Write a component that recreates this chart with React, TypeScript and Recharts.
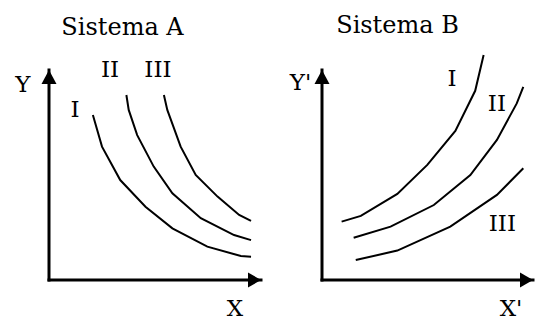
import { LineChart, Line, XAxis, YAxis, ReferenceLine, ReferenceDot } from "recharts";

type Pt = { x: number; y: number };
type Tag = { x: number; y: number; text: string };

// Sistema A: three decreasing curves
const aCurveI: Pt[] = [
  { x: 2.07, y: 7.86 },
  { x: 2.5, y: 6.35 },
  { x: 3.36, y: 4.76 },
  { x: 4.55, y: 3.49 },
  { x: 5.82, y: 2.46 },
  { x: 7.47, y: 1.59 },
  { x: 9.05, y: 1.14 },
  { x: 9.53, y: 1.11 },
];
const aCurveII: Pt[] = [
  { x: 3.65, y: 8.81 },
  { x: 3.76, y: 8.1 },
  { x: 4.16, y: 6.9 },
  { x: 4.94, y: 5.4 },
  { x: 5.82, y: 4.13 },
  { x: 7.16, y: 2.94 },
  { x: 8.73, y: 2.14 },
  { x: 9.53, y: 1.9 },
];
const aCurveIII: Pt[] = [
  { x: 5.42, y: 8.81 },
  { x: 5.58, y: 8.1 },
  { x: 6.21, y: 6.35 },
  { x: 6.92, y: 5.0 },
  { x: 7.95, y: 3.97 },
  { x: 8.97, y: 3.1 },
  { x: 9.53, y: 2.82 },
];

// Sistema B: three increasing curves
const bCurveI: Pt[] = [
  { x: 0.93, y: 2.78 },
  { x: 1.84, y: 3.05 },
  { x: 3.57, y: 4.1 },
  { x: 4.99, y: 5.48 },
  { x: 6.32, y: 7.1 },
  { x: 7.26, y: 9.01 },
  { x: 7.66, y: 10.71 },
];
const bCurveII: Pt[] = [
  { x: 1.5, y: 2.01 },
  { x: 3.25, y: 2.54 },
  { x: 5.3, y: 3.57 },
  { x: 7.03, y: 5.0 },
  { x: 8.29, y: 6.67 },
  { x: 9.23, y: 8.41 },
  { x: 9.54, y: 9.2 },
];
const bCurveIII: Pt[] = [
  { x: 1.6, y: 0.95 },
  { x: 3.57, y: 1.4 },
  { x: 6.08, y: 2.54 },
  { x: 8.29, y: 4.05 },
  { x: 9.54, y: 5.32 },
];

const aTags: Tag[] = [
  { x: 1.23, y: 8.14, text: "I" },
  { x: 2.88, y: 10.07, text: "II" },
  { x: 5.14, y: 10.07, text: "III" },
  { x: -1.23, y: 9.33, text: "Y" },
  { x: 8.77, y: -1.3, text: "X" },
];
const bTags: Tag[] = [
  { x: 6.16, y: 9.64, text: "I" },
  { x: 8.29, y: 8.45, text: "II" },
  { x: 8.55, y: 2.74, text: "III" },
  { x: -1.02, y: 9.43, text: "Y'" },
  { x: 8.96, y: -1.3, text: "X'" },
];

const X_MAX = 10;
const Y_MAX = 12;
const Y_AXIS_TOP = 10;
const FONT = "'DejaVu Serif', serif";

const UpArrow = (p: any) => (
  <polygon
    points={`${p.cx},${p.cy} ${p.cx - 7.5},${p.cy + 14} ${p.cx + 7.5},${p.cy + 14}`}
    fill="#000"
  />
);

const RightArrow = (p: any) => (
  <polygon
    points={`${p.cx},${p.cy} ${p.cx - 13},${p.cy - 7.5} ${p.cx - 13},${p.cy + 7.5}`}
    fill="#000"
  />
);

const TagText = (text: string) => (p: any) => (
  <text
    x={p.cx}
    y={p.cy}
    dy="0.36em"
    textAnchor="middle"
    fontFamily={FONT}
    fontSize={23}
    fill="#000"
  >
    {text}
  </text>
);

type PanelProps = {
  curves: Pt[][];
  tags: Tag[];
  width: number;
  left: number;
  right: number;
};

const Panel = ({ curves, tags, width, left, right }: PanelProps) => (
  <LineChart
    width={width}
    height={320}
    margin={{ top: 28, right, bottom: 40, left }}
  >
    <XAxis type="number" dataKey="x" domain={[0, X_MAX]} hide />
    <YAxis type="number" dataKey="y" domain={[0, Y_MAX]} hide />
    <ReferenceLine
      segment={[{ x: 0, y: 0 }, { x: X_MAX, y: 0 }]}
      stroke="#000"
      strokeWidth={3}
      strokeLinecap="square"
    />
    <ReferenceLine
      segment={[{ x: 0, y: 0 }, { x: 0, y: Y_AXIS_TOP }]}
      stroke="#000"
      strokeWidth={3}
      strokeLinecap="square"
    />
    <ReferenceDot x={X_MAX} y={0} r={0} shape={RightArrow} ifOverflow="visible" />
    <ReferenceDot x={0} y={Y_AXIS_TOP} r={0} shape={UpArrow} ifOverflow="visible" />
    {curves.map((c, i) => (
      <Line
        key={i}
        data={c}
        dataKey="y"
        type="linear"
        stroke="#000"
        strokeWidth={2}
        dot={false}
        isAnimationActive={false}
      />
    ))}
    {tags.map((t) => (
      <ReferenceDot
        key={t.text}
        x={t.x}
        y={t.y}
        r={0}
        shape={TagText(t.text)}
        ifOverflow="visible"
      />
    ))}
  </LineChart>
);

const titleStyle = (center: number, baseline: number): React.CSSProperties => ({
  position: "absolute",
  left: center - 100,
  width: 200,
  top: baseline - 20.3,
  lineHeight: "24px",
  fontSize: 24,
  fontFamily: FONT,
  textAlign: "center",
  color: "#000",
});

export default function App() {
  return (
    <div
      style={{
        position: "fixed",
        left: 0,
        top: 0,
        width: 539,
        height: 320,
        background: "#fff",
        overflow: "hidden",
      }}
    >
      <div style={{ position: "absolute", left: 0, top: 0 }}>
        <Panel curves={[aCurveI, aCurveII, aCurveIII]} tags={aTags} width={270} left={49} right={9} />
      </div>
      <div style={{ position: "absolute", left: 270, top: 0 }}>
        <Panel curves={[bCurveI, bCurveII, bCurveIII]} tags={bTags} width={269} left={52} right={6} />
      </div>
      <div style={titleStyle(122.5, 35)}>Sistema A</div>
      <div style={titleStyle(397.5, 33)}>Sistema B</div>
    </div>
  );
}
